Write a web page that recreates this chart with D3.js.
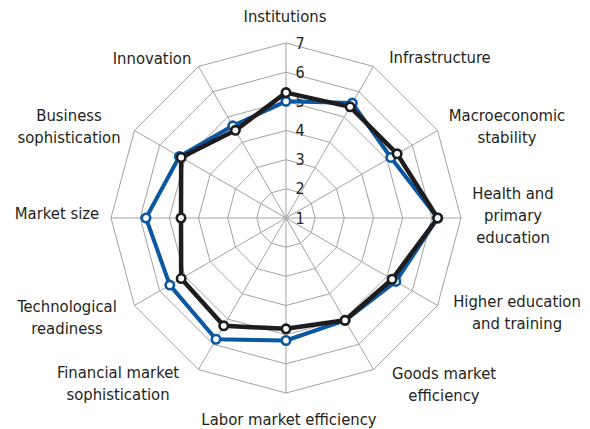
<!DOCTYPE html>
<html>
<head>
<meta charset="utf-8">
<script src="https://cdn.jsdelivr.net/npm/d3@7"></script>
<style>
  html, body { margin: 0; padding: 0; background: #fff; }
  svg { display: block; }
  text { font-family: "Liberation Sans Narrow", "DejaVu Sans Condensed", "Roboto", sans-serif; fill: #231f20; }
</style>
</head>
<body>
<svg id="chart" width="590" height="429"></svg>
<script>
// ---- data ----
const axes = [
  "Institutions", "Infrastructure", "Macroeconomic\nstability", "Health and\nprimary\neducation",
  "Higher education\nand training", "Goods market\nefficiency", "Labor market efficiency",
  "Financial market\nsophistication", "Technological\nreadiness", "Market size",
  "Business\nsophistication", "Innovation"
];
const seriesBlue  = [5.0, 5.55, 5.15, 6.2, 5.35, 5.05, 5.2, 5.8, 5.6, 5.8, 5.22, 4.65];
const seriesBlack = [5.3, 5.4, 5.4, 6.2, 5.2, 5.05, 4.8, 5.27, 5.15, 4.6, 5.15, 4.47];
const tickValues  = [1, 2, 3, 4, 5, 6, 7];

// ---- layout ----
const W = 590, H = 429;
const cx = 286, cy = 218, R = 175;
// label block centers relative to chart center
const labelOffsets = [
  [-1, -202], [154, -161], [221, -92], [227, -3], [231, 94], [158, 166],
  [3, 201], [-168, 165], [-219, 99], [-229, -5], [-217, -92], [-134, -160]
];
const lineH = 22;

const svg = d3.select("#chart");
const g = svg.append("g").attr("transform", `translate(${cx},${cy})`);

const r = d3.scaleLinear().domain([1, 7]).range([0, R]);
const angle = d3.scalePoint().domain(d3.range(axes.length)).range([0, 2 * Math.PI * (axes.length - 1) / axes.length]);

const pt = (i, v) => [Math.sin(angle(i)) * r(v), -Math.cos(angle(i)) * r(v)];

// grid rings
const gridColor = "#a3a3a3";
tickValues.filter(t => t > 1).forEach(t => {
  g.append("path")
    .attr("d", d3.line()(axes.map((_, i) => pt(i, t))) + "Z")
    .attr("fill", "none")
    .attr("stroke", gridColor)
    .attr("stroke-width", 1);
});
// spokes
axes.forEach((_, i) => {
  const [x, y] = pt(i, 7);
  g.append("line").attr("x1", 0).attr("y1", 0).attr("x2", x).attr("y2", y)
    .attr("stroke", gridColor).attr("stroke-width", 1);
});

// tick labels
g.selectAll("text.tick").data(tickValues).join("text")
  .attr("class", "tick")
  .attr("x", 14)
  .attr("y", d => -r(d))
  .attr("dy", "0.35em")
  .attr("text-anchor", "middle")
  .attr("font-size", 16)
  .text(d => d);

// series
function drawSeries(values, color, width) {
  const pts = values.map((v, i) => pt(i, v));
  g.append("path")
    .attr("d", d3.line()(pts) + "Z")
    .attr("fill", "none")
    .attr("stroke", color)
    .attr("stroke-width", width)
    .attr("stroke-linejoin", "round");
  g.append("g").selectAll("circle").data(pts).join("circle")
    .attr("cx", d => d[0]).attr("cy", d => d[1])
    .attr("r", 4.2)
    .attr("fill", "#fff")
    .attr("stroke", color)
    .attr("stroke-width", 2.6);
}
drawSeries(seriesBlue, "#0b58a0", 4);
drawSeries(seriesBlack, "#1f1c1d", 4.5);

// axis labels
axes.forEach((name, i) => {
  const lines = name.split("\n");
  const [ox, oy] = labelOffsets[i];
  const t = g.append("text")
    .attr("text-anchor", "middle")
    .attr("font-size", 16.5);
  const y0 = oy - (lines.length - 1) * lineH / 2;
  lines.forEach((ln, k) => {
    t.append("tspan").attr("x", ox).attr("y", y0 + k * lineH).attr("dy", "0.35em").text(ln);
  });
});
</script>
</body>
</html>
